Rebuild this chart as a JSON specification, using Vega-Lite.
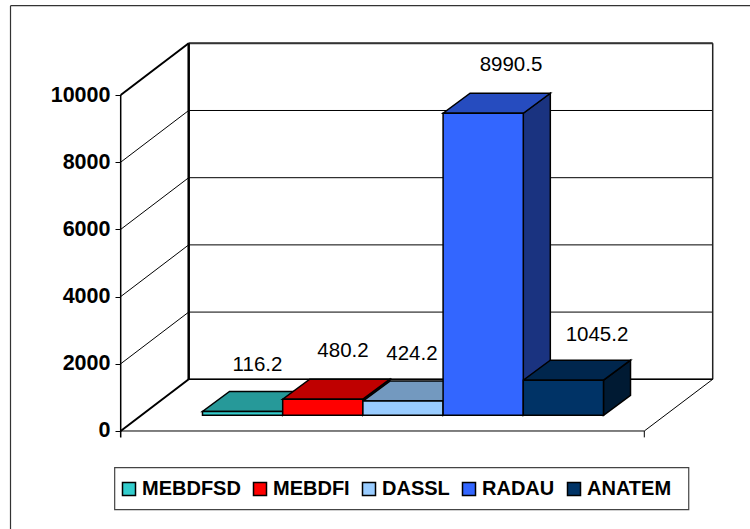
{
"$schema":"https://vega.github.io/schema/vega-lite/v6.json",
"width":750,"height":529,"padding":0,"autosize":{"type":"none"},
"background":"white",
"config":{"view":{"stroke":null},"font":"Liberation Sans"},
"datasets":{"runs":[
{"name":"MEBDFSD","value":116.2},
{"name":"MEBDFI","value":480.2},
{"name":"DASSL","value":424.2},
{"name":"RADAU","value":8990.5},
{"name":"ANATEM","value":1045.2}],
"ticks":[{"tick":0},{"tick":2000},{"tick":4000},{"tick":6000},{"tick":8000},{"tick":10000}],
"one":[{"frame":"static"}]},
"resolve":{"scale":{"fill":"independent"}},
"layer":[
{"data":{"name":"ticks"},"mark":{"type":"rule","color":"black","strokeWidth":0},
 "encoding":{"y":{"field":"tick","type":"quantitative","scale":{"domain":[-2916.7,12827.4],"nice":false,"zero":false},
 "axis":{"title":null,"values":[0,2000,4000,6000,8000,10000],"offset":-120.5,"domain":false,"grid":false,"tickSize":5.5,"tickColor":"black","tickWidth":1,"labelFont":"Liberation Sans","labelFontSize":21.5,"labelFontWeight":"bold","labelColor":"black","labelPadding":5,"format":"d"}},
 "x":{"datum":-1.02,"type":"quantitative","scale":{"domain":[-2.525,6.827],"nice":false,"zero":false},"axis":null}}},
{"data":{"name":"ticks"},"transform":[{"calculate":"datum.tick+1539","as":"back"}],
 "mark":{"type":"rule","color":"black","strokeWidth":1},
 "encoding":{"x":{"datum":-1.02,"type":"quantitative"},"x2":{"datum":-0.172},"y":{"field":"tick","type":"quantitative"},"y2":{"field":"back"}}},
{"data":{"name":"ticks"},"transform":[{"calculate":"datum.tick+1539","as":"back"}],
 "mark":{"type":"rule","color":"black","strokeWidth":1},
 "encoding":{"x":{"datum":-0.172,"type":"quantitative"},"x2":{"datum":6.362},"y":{"field":"back","type":"quantitative"}}},
{"data":{"name":"one"},"mark":{"type":"rule","color":"black","strokeWidth":2},
 "encoding":{"x":{"datum":-1.02,"type":"quantitative"},"x2":{"datum":-0.172},"y":{"datum":10000,"type":"quantitative"},"y2":{"datum":11539}}},
{"data":{"name":"one"},"mark":{"type":"rule","color":"black","strokeWidth":2},
 "encoding":{"x":{"datum":-1.02,"type":"quantitative"},"x2":{"datum":-0.172},"y":{"datum":0,"type":"quantitative"},"y2":{"datum":1539}}},
{"data":{"name":"one"},"mark":{"type":"rule","color":"#333333","strokeWidth":2},
 "encoding":{"x":{"datum":-0.172,"type":"quantitative"},"x2":{"datum":6.362},"y":{"datum":11539,"type":"quantitative"}}},
{"data":{"name":"one"},"mark":{"type":"rule","color":"black","strokeWidth":2.5},
 "encoding":{"x":{"datum":-0.172,"type":"quantitative"},"y":{"datum":1539,"type":"quantitative"},"y2":{"datum":11539}}},
{"data":{"name":"one"},"mark":{"type":"rule","color":"#222222","strokeWidth":1.5},
 "encoding":{"x":{"datum":6.362,"type":"quantitative"},"y":{"datum":1539,"type":"quantitative"},"y2":{"datum":11539}}},
{"data":{"name":"one"},"mark":{"type":"rule","color":"black","strokeWidth":1.5},
 "encoding":{"x":{"datum":-1.02,"type":"quantitative"},"y":{"datum":-190,"type":"quantitative"},"y2":{"datum":10000}}},
{"data":{"name":"one"},"mark":{"type":"rule","color":"black","strokeWidth":1},
 "encoding":{"x":{"datum":5.509,"type":"quantitative"},"y":{"datum":-190,"type":"quantitative"},"y2":{"datum":0}}},
{"data":{"name":"one"},"mark":{"type":"rule","color":"black","strokeWidth":1},
 "encoding":{"x":{"datum":-1.02,"type":"quantitative"},"x2":{"datum":5.509},"y":{"datum":0,"type":"quantitative"}}},
{"data":{"name":"one"},"mark":{"type":"rule","color":"black","strokeWidth":1},
 "encoding":{"x":{"datum":5.509,"type":"quantitative"},"x2":{"datum":6.362},"y":{"datum":0,"type":"quantitative"},"y2":{"datum":1539}}},
{"data":{"name":"one"},"mark":{"type":"rule","color":"black","strokeWidth":1.5},
 "encoding":{"x":{"datum":-0.172,"type":"quantitative"},"x2":{"datum":6.362},"y":{"datum":1539,"type":"quantitative"}}},
{"data":{"name":"one"},"mark":{"type":"rule","color":"#333333","strokeWidth":1.2},
 "encoding":{"x":{"datum":-2.394,"type":"quantitative"},"y":{"datum":-2916.7,"type":"quantitative"},"y2":{"datum":12658}}},
{"data":{"name":"one"},"mark":{"type":"rule","color":"#333333","strokeWidth":1.2},
 "encoding":{"x":{"datum":-2.394,"type":"quantitative"},"x2":{"datum":6.827},"y":{"datum":12658,"type":"quantitative"}}},
{"data":{"name":"one"},"mark":{"type":"rect","fill":"white","stroke":"#444444","strokeWidth":1.2},
 "encoding":{"x":{"datum":-1.095,"type":"quantitative"},"x2":{"datum":6.063},"y":{"datum":-1092,"type":"quantitative"},"y2":{"datum":-2342}}},
{"data":{"name":"runs"},
 "transform":[{"calculate":"indexof(['MEBDFSD','MEBDFI','DASSL','RADAU','ANATEM'],datum.name)","as":"i"},
 {"calculate":"[0,1]","as":"k"},{"flatten":["k"]},
 {"calculate":"datum.i+1+datum.k*0.337","as":"xa"},
 {"calculate":"467+datum.k*595","as":"lo"},
 {"calculate":"467+datum.value+datum.k*595","as":"hi"}],
 "mark":{"type":"area","orient":"vertical","stroke":"black","strokeWidth":1.5,"strokeJoin":"miter"},
 "encoding":{"x":{"field":"xa","type":"quantitative"},"y":{"field":"lo","type":"quantitative"},"y2":{"field":"hi"},
 "fill":{"field":"name","type":"nominal","legend":null,"scale":{"domain":["MEBDFSD","MEBDFI","DASSL","RADAU","ANATEM"],"range":["#1A6666","#800000","#4D6680","#1A3380","#001A33"]}}}},
{"data":{"name":"runs"},
 "transform":[{"calculate":"indexof(['MEBDFSD','MEBDFI','DASSL','RADAU','ANATEM'],datum.name)","as":"i"},
 {"calculate":"[0,1,2,3]","as":"k"},{"flatten":["k"]},
 {"calculate":"datum.i+[0,0.337,1,1.337][datum.k]","as":"xa"},
 {"calculate":"467+datum.value+[0,0,0,595][datum.k]","as":"lo"},
 {"calculate":"467+datum.value+[0,595,595,595][datum.k]","as":"hi"}],
 "mark":{"type":"area","orient":"vertical","stroke":"black","strokeWidth":1.5,"strokeJoin":"miter"},
 "encoding":{"x":{"field":"xa","type":"quantitative"},"y":{"field":"lo","type":"quantitative"},"y2":{"field":"hi"},
 "fill":{"field":"name","type":"nominal","legend":null,"scale":{"domain":["MEBDFSD","MEBDFI","DASSL","RADAU","ANATEM"],"range":["#269999","#BF0000","#7399BF","#264CBF","#00264D"]}}}},
{"data":{"name":"runs"},
 "transform":[{"calculate":"indexof(['MEBDFSD','MEBDFI','DASSL','RADAU','ANATEM'],datum.name)","as":"i"},
 {"calculate":"datum.i+1","as":"ir"},
 {"calculate":"467+datum.value","as":"hi"},
 {"calculate":"467","as":"lo"}],
 "mark":{"type":"rect","stroke":"black","strokeWidth":1.5},
 "encoding":{"x":{"field":"i","type":"quantitative"},"x2":{"field":"ir"},"y":{"field":"lo","type":"quantitative"},"y2":{"field":"hi"},
 "fill":{"field":"name","type":"nominal","title":null,"scale":{"domain":["MEBDFSD","MEBDFI","DASSL","RADAU","ANATEM"],"range":["#33CCCC","#FF0000","#99CCFF","#3366FF","#003366"]},
 "legend":{"orient":"none","legendX":119,"legendY":479,"direction":"horizontal","columns":5,"padding":0,"symbolType":"square","symbolSize":169,"symbolStrokeColor":"black","symbolStrokeWidth":1.5,"labelFont":"Liberation Sans","labelFontSize":20,"labelFontWeight":"bold","labelColor":"black","labelOffset":3,"columnPadding":9,"labelLimit":200}}}},
{"data":{"name":"runs"},
 "transform":[{"calculate":"indexof(['MEBDFSD','MEBDFI','DASSL','RADAU','ANATEM'],datum.name)","as":"i"},
 {"calculate":"datum.i+0.5+[0.186,0.252,0.112,0.347,0.419][datum.i]","as":"lx"},
 {"calculate":"datum.value+[1840,1900,1880,1900,1810][datum.i]","as":"ly"}],
 "mark":{"type":"text","font":"Liberation Sans","fontSize":20.5,"color":"black","baseline":"middle","align":"center"},
 "encoding":{"x":{"field":"lx","type":"quantitative"},"y":{"field":"ly","type":"quantitative"},"text":{"field":"value","type":"quantitative","format":".1f"}}}
]
}
